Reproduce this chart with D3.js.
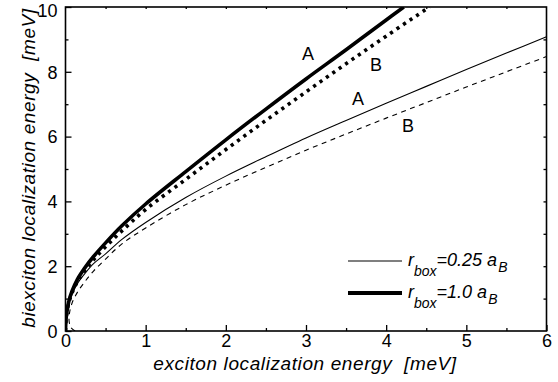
<!DOCTYPE html>
<html><head><meta charset="utf-8">
<script src="https://cdn.jsdelivr.net/npm/d3@7"></script>
<style>
body{margin:0;background:#fff;}
text{font-family:"Liberation Sans",Arial,sans-serif;fill:#000;}
</style></head>
<body><svg id="c" width="558" height="382"></svg>
<script>
// data (x: exciton localization energy meV, y: biexciton localization energy meV)
const xTicks = [0,1,2,3,4,5,6];
const yTicks = [0,2,4,6,8,10];
const thickA_x = [0,0.005,0.015,0.04,0.08,0.15,0.25,0.35,0.5,0.7,1,1.5,2,2.5,3,3.5,4,4.22];
const thickA_y = [0,0.3,0.55,0.9,1.22,1.6,1.98,2.3,2.72,3.24,3.92,4.92,5.9,6.85,7.78,8.68,9.6,10];
const thickB_x = [0,0.005,0.015,0.04,0.08,0.15,0.25,0.35,0.5,0.7,1,1.5,2,2.5,3,3.5,4,4.54];
const thickB_y = [0,0.28,0.52,0.86,1.17,1.53,1.9,2.2,2.6,3.08,3.75,4.68,5.6,6.5,7.38,8.25,9.1,10];
const thinA_x = [0,0.005,0.015,0.04,0.08,0.15,0.25,0.35,0.5,0.7,1,1.5,2,2.5,3,3.5,4,4.5,5,5.5,6];
const thinA_y = [0,0.27,0.5,0.83,1.12,1.47,1.8,2.08,2.38,2.82,3.35,4.12,4.78,5.38,5.96,6.5,7.03,7.55,8.07,8.58,9.08];
const thinB_x = [0.12,0.07,0.045,0.05,0.08,0.15,0.25,0.35,0.5,0.7,1,1.5,2,2.5,3,3.5,4,4.5,5,5.5,6];
const thinB_y = [0,0.1,0.3,0.55,0.85,1.2,1.55,1.85,2.22,2.68,3.18,3.9,4.5,5.05,5.58,6.08,6.57,7.05,7.53,8.0,8.47];
const legendValues = ["0.25","1.0"];

const svg = d3.select("#c");
const x = d3.scaleLinear().domain([0,6]).range([65.5,546.5]);
const y = d3.scaleLinear().domain([0,10]).range([331,7]);

// frame
svg.append("rect").attr("x",x(0)).attr("y",y(10)).attr("width",x(6)-x(0)).attr("height",y(0)-y(10))
  .attr("fill","none").attr("stroke","#000").attr("stroke-width",1.6);

// ticks
const bottom = svg.append("g").attr("transform",`translate(0,${y(0)})`)
  .call(d3.axisBottom(x).tickValues(xTicks).tickSize(-6).tickPadding(3).tickFormat(d3.format("d")));
const bMinor = svg.append("g").attr("transform",`translate(0,${y(0)})`)
  .call(d3.axisBottom(x).tickValues(d3.range(0.5,6,1)).tickSize(-3).tickFormat(""));
const left = svg.append("g").attr("transform",`translate(${x(0)},0)`)
  .call(d3.axisLeft(y).tickValues(yTicks).tickSize(-6).tickPadding(8).tickFormat(d3.format("d")));
const lMinor = svg.append("g").attr("transform",`translate(${x(0)},0)`)
  .call(d3.axisLeft(y).tickValues(d3.range(1,10,2)).tickSize(-3).tickFormat(""));
const rMinor = svg.append("g").attr("transform",`translate(${x(6)},0)`)
  .call(d3.axisRight(y).tickValues(d3.range(1,10,1)).tickSize(-3).tickFormat(""));
const tMinor = svg.append("g").attr("transform",`translate(0,${y(10)})`)
  .call(d3.axisTop(x).tickValues(d3.range(0.5,6,0.5)).tickSize(-2).tickFormat(""));
[bottom,bMinor,left,lMinor,rMinor,tMinor].forEach(g=>{
  g.select(".domain").remove();
  g.selectAll(".tick line").attr("stroke","#000").attr("stroke-width",1.3);
  g.selectAll(".tick text").attr("font-size",18).attr("font-family","Liberation Sans, Arial, sans-serif").attr("fill","#000");
});
left.selectAll(".tick text").attr("dy",d=>d===10?"0.55em":"0.35em");

// curves
const line = d3.line().x(d=>x(d[0])).y(d=>y(d[1])).curve(d3.curveCatmullRom.alpha(0.5));
svg.append("clipPath").attr("id","pc").append("rect")
  .attr("x",x(0)).attr("y",y(10)).attr("width",x(6)-x(0)).attr("height",y(0)-y(10));
const curves = [
  {xs:thinA_x, ys:thinA_y, w:1.1, dash:null},
  {xs:thinB_x, ys:thinB_y, w:1.1, dash:"5,4.5"},
  {xs:thickB_x, ys:thickB_y, w:3.6, dash:"3.2,4.6"},
  {xs:thickA_x, ys:thickA_y, w:3.6, dash:null},
];
const pg = svg.append("g").attr("clip-path","url(#pc)");
curves.forEach(c=>{
  pg.append("path").attr("d",line(c.xs.map((v,i)=>[v,c.ys[i]])))
    .attr("fill","none").attr("stroke","#000").attr("stroke-width",c.w)
    .attr("stroke-dasharray",c.dash);
});

// curve labels
const labs = [{t:"A",px:308,py:60},{t:"B",px:376,py:71},{t:"A",px:358,py:105},{t:"B",px:408,py:132}];
svg.selectAll(".lab").data(labs).join("text").attr("class","lab")
  .attr("x",d=>d.px).attr("y",d=>d.py).attr("text-anchor","middle").attr("font-size",18).text(d=>d.t);

// legend
const lg = [{v:legendValues[0], w:1.1, yy:261},{v:legendValues[1], w:4, yy:293}];
lg.forEach(l=>{
  svg.append("line").attr("x1",348).attr("x2",402).attr("y1",l.yy).attr("y2",l.yy)
    .attr("stroke","#000").attr("stroke-width",l.w);
  const t = svg.append("text").attr("x",408).attr("y",l.yy+5).attr("font-size",18).attr("font-style","italic");
  t.append("tspan").text("r");
  t.append("tspan").attr("dy",10).attr("font-size",14).text("box");
  t.append("tspan").attr("dy",-10).text("="+l.v+" a");
  t.append("tspan").attr("dy",6).attr("font-size",14).attr("dx",1).text("B");
});

// axis titles
svg.append("text").attr("x",305).attr("y",370).attr("text-anchor","middle").attr("font-size",19)
  .attr("letter-spacing","0.6px").attr("font-style","italic").attr("xml:space","preserve")
  .text("exciton localization energy  [meV]");
svg.append("text").attr("transform","translate(35,168) rotate(-90)").attr("text-anchor","middle")
  .attr("font-size",19).attr("letter-spacing","0.6px").attr("font-style","italic").attr("xml:space","preserve")
  .text("biexciton localization energy  [meV]");
</script></body></html>
